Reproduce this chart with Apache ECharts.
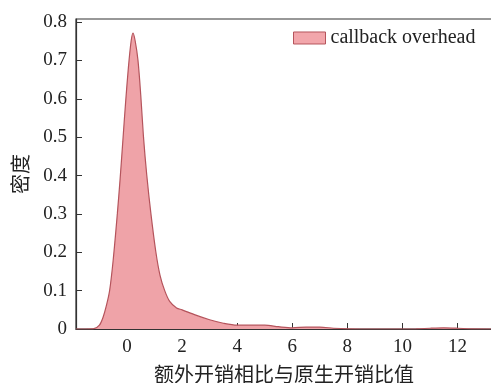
<!DOCTYPE html>
<html>
<head>
<meta charset="utf-8">
<script src="https://cdn.jsdelivr.net/npm/echarts@6/dist/echarts.min.js"></script>
<style>
  html, body { margin: 0; padding: 0; background: #fff; }
  #main { width: 491px; height: 383px; }
</style>
</head>
<body>
<div id="main"></div>
<script>
// density curve
var xs = [-1.85, -1.5, -1.2, -1.0, -0.87, -0.75, -0.63, -0.5, -0.35, -0.25, -0.15, -0.05, 0.05, 0.15, 0.22,
          0.3, 0.4, 0.5, 0.6, 0.72, 0.87, 1.05, 1.2, 1.37, 1.55, 1.8, 2.0, 2.5, 3.0, 3.5, 4.0,
          4.5, 5.0, 5.5, 6.0, 6.5, 7.0, 7.5, 8.0, 9.0, 10.5, 11.0, 11.5, 12.0, 12.5, 13.25];
var ys = [0, 0, 0.001, 0.01, 0.03, 0.06, 0.1, 0.18, 0.3, 0.39, 0.49, 0.59, 0.68, 0.75, 0.771,
          0.75, 0.7, 0.61, 0.5, 0.4, 0.3, 0.2, 0.14, 0.1, 0.072, 0.055, 0.05, 0.036, 0.024, 0.015, 0.01,
          0.01, 0.01, 0.006, 0.003, 0.005, 0.005, 0.002, 0.0005, 0, 0.0003, 0.002, 0.003, 0.002, 0.0003, 0];
var xTicks = [0, 2, 4, 6, 8, 10, 12];
var yTicks = [0, 0.1, 0.2, 0.3, 0.4, 0.5, 0.6, 0.7, 0.8];
var seriesName = 'callback overhead';

var font = '"Liberation Serif", "Noto Sans CJK SC", serif';
var data = xs.map(function (x, i) { return [x, ys[i]]; });

var option = {
  animation: false,
  textStyle: { fontFamily: font },
  grid: {
    left: 76, top: 19, right: -1, bottom: 54,
    outerBoundsMode: 'none',
    show: true, borderColor: '#333', borderWidth: 1.2
  },
  legend: {
    data: [seriesName],
    left: 288, top: 23,
    icon: 'rect',
    itemWidth: 32, itemHeight: 12,
    itemGap: 8,
    textStyle: { fontFamily: font, fontSize: 20, color: '#222' },
    itemStyle: { color: '#F2A6AB', borderColor: '#B5545C', borderWidth: 1 }
  },
  xAxis: {
    type: 'value',
    min: -1.85, max: 13.25,
    name: '额外开销相比与原生开销比值',
    nameLocation: 'middle',
    nameGap: 38,
    nameTextStyle: { fontFamily: font, fontSize: 20, color: '#222' },
    axisLine: { onZero: false, lineStyle: { color: '#333', width: 1.2 } },
    axisTick: { inside: true, length: 6, customValues: xTicks, lineStyle: { color: '#333' } },
    axisLabel: { customValues: xTicks, fontSize: 19, color: '#222', margin: 9, fontFamily: font },
    splitLine: { show: false }
  },
  yAxis: {
    type: 'value',
    min: 0, max: 0.808,
    name: '密度',
    nameLocation: 'middle',
    nameGap: 38,
    nameTextStyle: { fontFamily: font, fontSize: 20, color: '#222' },
    axisLine: { show: true, onZero: false, lineStyle: { color: '#333', width: 1.2 } },
    axisTick: { show: true, inside: true, length: 6, customValues: yTicks, lineStyle: { color: '#333' } },
    axisLabel: { customValues: yTicks, fontSize: 19, color: '#222', margin: 9, fontFamily: font,
                 formatter: function (v) { return v === 0 ? '0' : v.toFixed(1); } },
    splitLine: { show: false }
  },
  series: [{
    name: seriesName,
    type: 'line',
    data: data,
    smooth: 0.3,
    showSymbol: false,
    lineStyle: { color: '#B5545C', width: 1.2 },
    itemStyle: { color: '#F2A6AB', borderColor: '#B5545C' },
    areaStyle: { color: '#EFA3A8', opacity: 1 }
  }]
};

var myChart = echarts.init(document.getElementById('main'));
myChart.setOption(option);
</script>
</body>
</html>
